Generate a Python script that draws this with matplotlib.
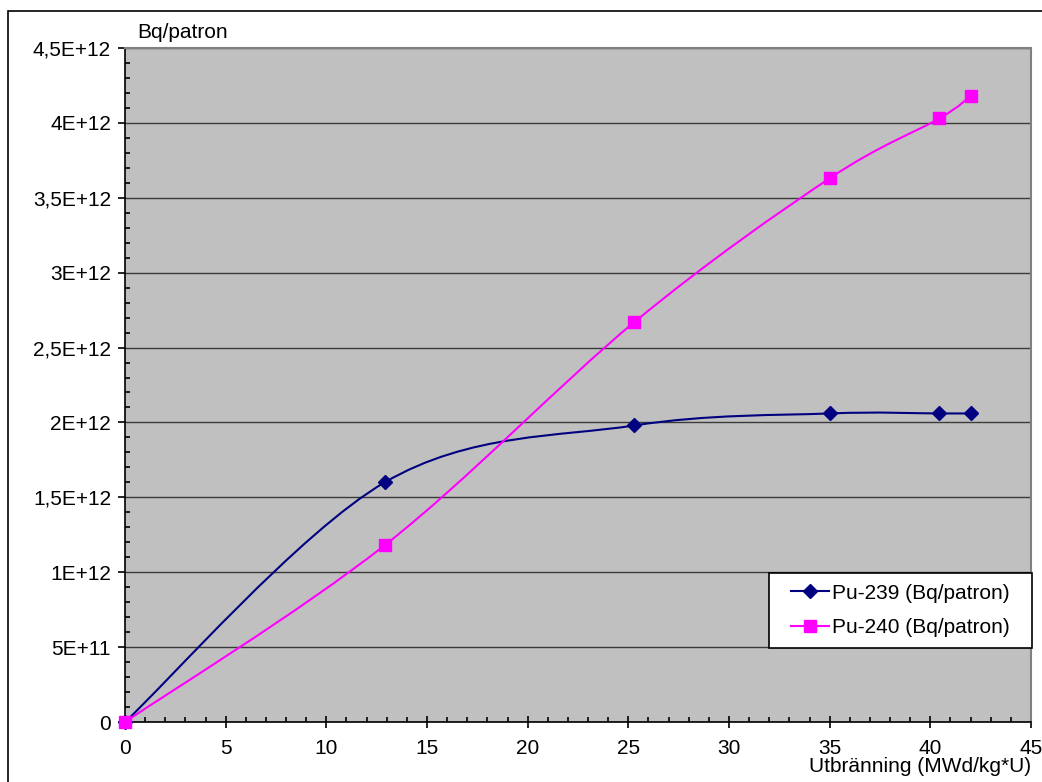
import matplotlib
matplotlib.use("Agg")
import matplotlib.pyplot as plt
from matplotlib.path import Path
from matplotlib.patches import PathPatch, Rectangle
from matplotlib.lines import Line2D
from matplotlib.ticker import MultipleLocator, FuncFormatter
import numpy as np

plt.rcParams['font.family'] = ['Liberation Sans', 'DejaVu Sans']

# burnup (MWd/kg U) and activity per assembly
burnup = [0, 12.9, 25.3, 35.0, 40.45, 42.0]
pu239 = [0, 1.60e12, 1.98e12, 2.06e12, 2.06e12, 2.06e12]
pu240 = [0, 1.18e12, 2.67e12, 3.63e12, 4.03e12, 4.18e12]
names = ['Pu-239 (Bq/patron)', 'Pu-240 (Bq/patron)']

FS = 15


def smooth_path(xs, ys):
    # spreadsheet-style smoothed line: cubic bezier through every point
    p = np.column_stack([xs, ys]).astype(float)
    n = len(p)
    verts = [p[0]]
    codes = [Path.MOVETO]
    for i in range(n - 1):
        prev = p[i - 1] if i > 0 else p[i]
        nxt = p[i + 2] if i + 2 < n else p[i + 1]
        c1 = p[i] + (p[i + 1] - prev) / 6.0
        c2 = p[i + 1] - (nxt - p[i]) / 6.0
        verts += [c1, c2, p[i + 1]]
        codes += [Path.CURVE4] * 3
    return Path(verts, codes)


def sci_fmt(v, pos):
    if v == 0:
        return '0'
    e = int(np.floor(np.log10(abs(v)) + 1e-9))
    m = v / 10 ** e
    ms = ('%g' % round(m, 2)).replace('.', ',')
    return '%sE%+03d' % (ms, e)


W, H = 1042, 782
fig = plt.figure(figsize=(W / 100, H / 100), dpi=100)
fig.patch.set_facecolor('white')

# outer chart border
fig.patches.append(Rectangle((8 / W, -0.05), 1.2, 1 - 11 / H + 0.05,
                             transform=fig.transFigure, fill=False,
                             edgecolor='black', linewidth=1.2))

ax = fig.add_axes([125 / W, 1 - 722 / H, (1031 - 125) / W, (722 - 48) / H])
ax.set_facecolor('#C0C0C0')
ax.set_xlim(0, 45)
ax.set_ylim(0, 4.5e12)

ax.xaxis.set_major_locator(MultipleLocator(5))
ax.xaxis.set_minor_locator(MultipleLocator(1))
ax.yaxis.set_major_locator(MultipleLocator(5e11))
ax.yaxis.set_minor_locator(MultipleLocator(1e11))
ax.yaxis.set_major_formatter(FuncFormatter(sci_fmt))
ax.xaxis.set_major_formatter(FuncFormatter(lambda v, p: '%d' % v))

ax.grid(True, which='major', axis='y', color='#3a3a3a', linewidth=1.0)
ax.set_axisbelow(True)

for s in ['top', 'right']:
    ax.spines[s].set_color('#808080')
    ax.spines[s].set_linewidth(1.5)
for s in ['left', 'bottom']:
    ax.spines[s].set_color('black')
    ax.spines[s].set_linewidth(1.2)

ax.tick_params(axis='y', which='major', direction='out', length=5, width=1.2,
               labelsize=FS, pad=5)
ax.tick_params(axis='y', which='minor', direction='in', length=3.5, width=1.2)
ax.tick_params(axis='x', which='major', direction='inout', length=8, width=1.2,
               labelsize=FS, pad=8)
ax.tick_params(axis='x', which='minor', direction='in', length=3.5, width=1.2)

colors = ['#000080', '#FF00FF']
markers = ['D', 's']
msizes = [7, 8.5]
for ys, c, m, ms in zip([pu239, pu240], colors, markers, msizes):
    ax.add_patch(PathPatch(smooth_path(burnup, ys), fill=False,
                           edgecolor=c, linewidth=1.5, zorder=3))
    ax.plot(burnup, ys, linestyle='none', marker=m, markersize=ms,
            color=c, zorder=4, clip_on=False)

# legend box with its entries centred inside
lx0, ly0, lx1, ly1 = 769, 573, 1032, 648
fig.patches.append(Rectangle((lx0 / W, 1 - ly1 / H), (lx1 - lx0) / W,
                             (ly1 - ly0) / H, transform=fig.transFigure,
                             facecolor='white', edgecolor='black',
                             linewidth=1.2, zorder=5))
handles = [Line2D([], [], color=c, marker=m, markersize=ms, linewidth=1.5)
           for c, m, ms in zip(colors, markers, msizes)]
leg = fig.legend(handles, names, loc='center',
                 bbox_to_anchor=((lx0 + lx1) / 2 / W, 1 - (ly0 + ly1) / 2 / H),
                 fontsize=FS, frameon=False, handlelength=1.85,
                 handletextpad=0.15, borderpad=0, labelspacing=0.75,
                 borderaxespad=0)
leg.set_zorder(6)

fig.text(137 / W, 1 - 33 / H, 'Bq/patron', fontsize=FS, va='center', ha='left')
fig.text(1031 / W, 1 - 766 / H, 'Utbränning (MWd/kg*U)', fontsize=FS,
         va='center', ha='right')

fig.savefig('out.png', dpi=100)
